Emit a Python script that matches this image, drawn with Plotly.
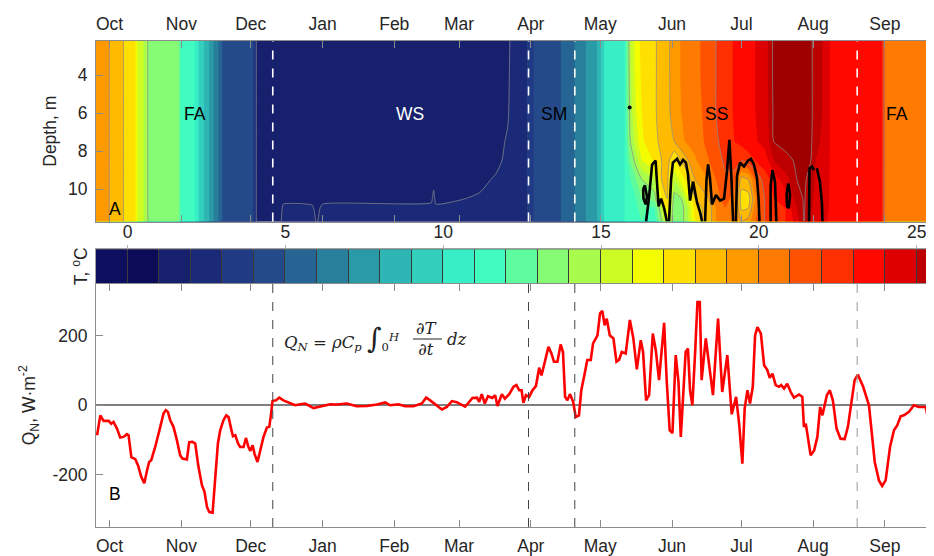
import numpy as np
import pandas as pd
import plotly.graph_objects as go

START = pd.Timestamp("2013-10-01")

# ---------------- Q_N series (days since 2013-10-01, W m-2) ----------------
qn_days = [-5.4, -4.0, -2.6, -0.4, 0.7, 1.7, 3.2, 4.6, 6.0, 7.5, 8.2, 9.4, 11.1, 12.3, 13.7, 15.0,
           16.2, 17.1, 18.0, 19.7, 21.9, 23.3, 24.3, 25.2, 26.2, 27.6, 29.1, 30.5, 31.5, 33.4, 34.4,
           35.8, 37.0, 38.4, 39.9, 41.0, 42.1, 43.1, 44.5, 45.7, 46.8, 47.8, 49.2, 50.4, 51.4, 52.6,
           53.3, 54.3, 55.5, 56.4, 57.9, 58.9, 60.0, 60.8, 61.8, 62.6, 63.9, 65.1, 66.5, 68.0, 69.0,
           69.7, 70.4, 71.9, 73.3, 75.1, 77.3, 80.2, 82.4, 84.5, 88.1, 91.0, 95.3, 98.2, 102.5, 106.8,
           111.2, 115.5, 119.1, 121.2, 124.8, 127.7, 131.3, 134.9, 136.8, 138.5, 140.7, 143.6, 145.7,
           147.9, 150.0, 152.2, 153.6, 154.8, 156.8, 158.7, 159.7, 160.8, 162.1, 163.5, 165.4, 166.6,
           167.6, 169.5, 170.8, 172.6, 174.5, 175.8, 177.0, 178.0, 178.8, 179.9, 181.3, 182.7, 184.2,
           185.6, 186.6, 187.7, 189.6, 190.9, 192.0, 193.5, 194.9, 195.9, 196.8, 197.8, 198.9, 200.3,
           201.4, 202.8, 203.8, 205.0, 206.4, 207.9, 208.9, 210.8, 211.9, 212.9, 213.9, 214.8, 216.1,
           217.7, 219.0, 220.1, 221.3, 223.0, 224.8, 226.3, 227.8, 229.5, 230.5, 231.8, 233.1, 234.7,
           236.0, 237.4, 239.6, 240.7, 242.0, 243.2, 244.6, 245.8, 246.8, 248.9, 249.9, 250.8, 251.8,
           253.0, 254.0, 255.0, 255.8, 257.6, 259.0, 260.7, 262.9, 264.7, 266.9, 268.8, 270.7, 272.0,
           273.4, 274.4, 275.6, 276.7, 277.9, 278.9, 279.9, 281.4, 282.8, 284.2, 285.2, 286.4, 287.8,
           289.2, 290.2, 291.4, 292.8, 294.3, 295.7, 297.9, 299.3, 300.0, 300.8, 302.9, 304.4, 305.8,
           307.0, 308.0, 309.9, 311.2, 312.5, 314.1, 315.8, 317.6, 319.0, 320.4, 321.9, 323.3, 325.6,
           328.1, 329.1, 330.6, 332.4, 333.8, 335.3, 337.2, 338.9, 340.3, 341.8, 343.2, 345.4, 347.5,
           349.7, 352.6, 354.4, 356.2]
qn_values = [-86, -29, -45, -45, -53, -48, -67, -93, -91, -83, -86, -149, -155, -173, -206, -224,
             -187, -163, -158, -120, -62, -24, -14, -19, -43, -62, -101, -144, -153, -156, -106,
             -105, -110, -177, -230, -249, -293, -307, -309, -206, -110, -72, -43, -29, -34, -70,
             -89, -86, -110, -120, -120, -94, -120, -131, -115, -139, -163, -130, -91, -64, -62,
             -29, 12, 14, 22, 14, 7, 0, 3, 5, -8, -3, 3, 2, 5, -3,
             -2, 2, 8, 0, 3, -3, -3, 5, 22, 14, 3, -12, -5,
             12, 9, 0, -4, 5, 21, 22, 10, 32, 5, 26, 21, 29,
             -2, 32, 19, 31, 53, 58, 43, 43, 7, 29, 24, 43, 55,
             108, 86, 115, 168, 149, 125, 125, 175, 153, 24, 14, 32, 10,
             -34, -29, 43, 82, 130, 130, 178, 201, 264, 271, 230, 249, 201,
             192, 125, 130, 153, 149, 245, 192, 103, 187, 153, 14, 29, 206,
             158, 72, 237, 72, -72, -80, 144, 67, -91, 153, 163, 43, 0,
             153, 297, 297, 72, 192, 120, 29, 249, 38, 144, -26, 24, -53,
             -168, -9, 43, 5, 53, 201, 225, 206, 115, 101, 79, 91, 58,
             53, 58, 48, 62, 38, 22, 31, 24, -62, -53, -144, -130, -91,
             -5, -29, 29, 43, 14, -67, -96, -97, -62, 5, 72, 88, 53,
             0, -67, -163, -216, -232, -216, -120, -72, -58, -32, -29, -19, 0,
             -5, -5, -62, -120]

# ---------------- temperature section (days since 2013-10-01, depth in m, degC) ----------------
depths = [2.2, 4.0, 6.0, 7.5, 8.5, 9.5, 10.5, 11.0, 11.7]
temp_days = [-6.0, -0.6, 0.6, 5.9, 6.2, 11.0, 12.0, 14.0, 15.5, 17.0, 29.8, 31.0, 36.5, 37.5, 39.5,
             42.0, 44.5, 47.0, 49.0, 61.5, 62.5, 63.5, 74.0, 75.0, 87.5, 89.5, 92.0, 139.0, 140.0,
             141.0, 160.0, 167.0, 172.0, 174.5, 180.0, 181.5, 184.0, 194.0, 196.0, 200.0, 203.0,
             208.0, 211.5, 212.5, 214.5, 222.5, 225.0, 227.5, 230.0, 233.0, 235.5, 238.5, 241.0,
             244.0, 247.0, 250.0, 253.0, 256.0, 259.0, 262.0, 266.0, 270.0, 273.0, 276.0, 279.0,
             283.0, 285.5, 287.0, 292.0, 297.0, 300.0, 303.0, 305.0, 310.0, 311.5, 321.0, 333.5,
             334.5, 335.2, 357.0]
temp_rows = [
    [19.6, 19.6, 19.6, 19.6, 19.6, 19.6, 19.6, 19.6, 19.6],
    [19.4, 19.4, 19.4, 19.4, 19.4, 19.4, 19.4, 19.4, 19.4],
    [18.4, 18.4, 18.4, 18.4, 18.4, 18.4, 18.4, 18.4, 18.4],
    [18.1, 18.1, 18.1, 18.1, 18.1, 18.1, 18.1, 18.1, 18.1],
    [17.8, 17.8, 17.8, 17.8, 17.8, 17.8, 17.8, 17.8, 17.8],
    [17.2, 17.2, 17.2, 17.2, 17.2, 17.2, 17.2, 17.2, 17.2],
    [16.0, 16.0, 16.0, 16.0, 16.0, 16.0, 16.0, 16.0, 16.0],
    [15.2, 15.2, 15.2, 15.2, 15.2, 15.2, 15.2, 15.2, 15.2],
    [14.8, 14.8, 14.8, 14.8, 14.8, 14.8, 14.8, 14.8, 14.8],
    [13.6, 13.6, 13.6, 13.6, 13.6, 13.6, 13.6, 13.6, 13.6],
    [13.2, 13.2, 13.2, 13.2, 13.2, 13.2, 13.2, 13.2, 13.2],
    [11.5, 11.5, 11.5, 11.5, 11.5, 11.5, 11.5, 11.5, 11.5],
    [11.2, 11.2, 11.2, 11.2, 11.2, 11.2, 11.2, 11.2, 11.2],
    [10.5, 10.5, 10.5, 10.5, 10.5, 10.5, 10.5, 10.5, 10.5],
    [9.5, 9.5, 9.5, 9.5, 9.5, 9.5, 9.5, 9.5, 9.5],
    [8.5, 8.5, 8.5, 8.5, 8.5, 8.5, 8.5, 8.5, 8.5],
    [7.2, 7.2, 7.2, 7.2, 7.2, 7.2, 7.2, 7.2, 7.2],
    [6.0, 6.0, 6.0, 6.0, 6.0, 6.0, 6.0, 6.0, 6.0],
    [4.8, 4.8, 4.8, 4.8, 4.8, 4.8, 4.8, 4.8, 4.8],
    [4.4, 4.4, 4.4, 4.4, 4.4, 4.4, 4.4, 4.4, 4.4],
    [3.5, 3.5, 3.5, 3.5, 3.5, 3.5, 3.5, 3.5, 3.5],
    [1.8, 1.8, 1.8, 1.8, 1.8, 1.8, 1.8, 1.8, 1.8],
    [1.6, 1.6, 1.6, 1.6, 1.6, 1.6, 1.7, 1.8, 1.9],
    [1.6, 1.6, 1.6, 1.6, 1.6, 1.6, 1.8, 2.15, 2.4],
    [1.6, 1.6, 1.6, 1.6, 1.6, 1.6, 1.8, 2.1, 2.4],
    [1.6, 1.6, 1.6, 1.6, 1.6, 1.6, 1.7, 1.8, 1.9],
    [1.6, 1.6, 1.6, 1.6, 1.6, 1.6, 1.8, 2.15, 2.4],
    [1.6, 1.6, 1.6, 1.6, 1.6, 1.6, 1.85, 2.2, 2.4],
    [1.6, 1.6, 1.6, 1.6, 1.6, 1.75, 2.2, 2.3, 2.5],
    [1.6, 1.6, 1.6, 1.6, 1.6, 1.6, 1.8, 2.15, 2.4],
    [1.6, 1.6, 1.6, 1.6, 1.7, 1.8, 2.1, 2.3, 2.5],
    [1.6, 1.6, 1.6, 1.7, 1.8, 2.1, 2.3, 2.4, 2.6],
    [1.7, 1.8, 1.9, 2.1, 2.2, 2.4, 2.5, 2.6, 2.7],
    [2.5, 2.5, 2.5, 2.5, 2.5, 2.5, 2.5, 2.5, 2.5],
    [2.9, 2.9, 2.9, 2.9, 2.9, 2.9, 2.9, 2.9, 2.9],
    [3.5, 3.5, 3.5, 3.5, 3.5, 3.5, 3.5, 3.5, 3.5],
    [4.2, 4.2, 4.2, 4.2, 4.2, 4.2, 4.2, 4.2, 4.2],
    [4.8, 4.8, 4.8, 4.8, 4.8, 4.8, 4.8, 4.8, 4.8],
    [5.2, 5.2, 5.2, 5.2, 5.2, 5.2, 5.2, 5.2, 5.2],
    [5.8, 5.8, 5.8, 5.8, 5.8, 5.8, 5.8, 5.8, 5.8],
    [6.5, 6.5, 6.5, 6.5, 6.5, 6.5, 6.5, 6.5, 6.5],
    [7.4, 7.4, 7.4, 7.4, 7.4, 7.4, 7.4, 7.4, 7.4],
    [8.2, 8.2, 8.2, 8.2, 8.2, 8.2, 8.2, 8.2, 8.2],
    [9.2, 9.2, 9.2, 9.2, 9.2, 9.2, 9.2, 9.2, 9.2],
    [10.6, 10.6, 10.6, 10.6, 10.6, 10.6, 10.6, 10.6, 10.6],
    [11.0, 11.0, 11.0, 11.0, 11.0, 11.0, 11.0, 11.0, 11.0],
    [15.0, 14.8, 14.5, 14.0, 13.0, 12.0, 11.5, 11.3, 11.2],
    [16.5, 16.3, 16.0, 15.5, 14.5, 13.0, 12.0, 11.8, 11.6],
    [17.3, 17.2, 17.0, 16.8, 16.0, 14.0, 13.0, 12.5, 12.0],
    [17.6, 17.6, 17.6, 17.5, 16.5, 14.5, 13.0, 11.8, 11.5],
    [17.9, 17.9, 17.9, 17.8, 17.2, 15.0, 13.5, 12.0, 11.5],
    [18.3, 18.3, 18.3, 18.2, 18.0, 18.0, 17.0, 15.0, 14.0],
    [18.8, 18.8, 18.8, 18.7, 18.4, 18.2, 18.0, 17.0, 16.0],
    [19.4, 19.4, 19.3, 19.0, 17.0, 15.0, 13.5, 13.0, 13.0],
    [20.1, 20.1, 20.0, 19.8, 18.0, 16.5, 14.0, 13.5, 13.5],
    [20.4, 20.4, 20.4, 20.2, 19.0, 17.5, 16.0, 15.0, 15.0],
    [20.7, 20.7, 20.6, 20.5, 19.8, 19.0, 18.0, 17.5, 17.0],
    [21.1, 21.1, 21.0, 20.9, 20.5, 19.5, 18.5, 18.0, 18.0],
    [21.5, 21.5, 21.5, 21.3, 21.0, 20.0, 19.0, 18.5, 18.5],
    [22.0, 22.0, 22.0, 21.8, 21.5, 21.0, 20.5, 20.0, 20.0],
    [22.6, 22.6, 22.6, 22.5, 22.2, 21.8, 21.5, 21.0, 21.0],
    [23.1, 23.1, 23.1, 23.0, 22.5, 21.5, 20.5, 20.5, 21.0],
    [23.4, 23.4, 23.4, 23.3, 22.0, 18.5, 17.5, 17.8, 19.0],
    [23.7, 23.7, 23.7, 23.6, 22.5, 19.0, 17.5, 18.0, 19.5],
    [24.0, 24.0, 24.0, 23.9, 23.0, 21.0, 20.0, 20.5, 21.0],
    [24.4, 24.4, 24.4, 24.3, 23.5, 22.5, 22.0, 22.0, 22.0],
    [25.5, 25.5, 25.4, 25.2, 24.3, 23.0, 22.5, 22.5, 22.5],
    [26.3, 26.3, 26.2, 26.0, 25.0, 23.5, 23.0, 23.0, 23.0],
    [26.4, 26.4, 26.3, 26.2, 25.8, 24.5, 23.5, 23.0, 23.0],
    [26.4, 26.4, 26.4, 26.3, 26.1, 26.0, 25.5, 25.0, 24.5],
    [26.4, 26.4, 26.4, 26.3, 26.2, 26.1, 26.1, 26.1, 26.1],
    [26.3, 26.3, 26.3, 26.2, 26.0, 25.8, 25.5, 25.3, 25.0],
    [25.3, 25.3, 25.3, 25.2, 25.0, 24.8, 24.5, 24.3, 24.2],
    [24.8, 24.8, 24.8, 24.7, 24.6, 24.5, 24.3, 24.2, 24.0],
    [23.8, 23.8, 23.8, 23.8, 23.8, 23.8, 23.8, 23.8, 23.8],
    [23.6, 23.6, 23.6, 23.6, 23.6, 23.6, 23.6, 23.6, 23.6],
    [23.2, 23.2, 23.2, 23.2, 23.2, 23.2, 23.2, 23.2, 23.2],
    [22.2, 22.2, 22.2, 22.2, 22.2, 22.2, 22.2, 22.2, 22.2],
    [20.8, 20.8, 20.8, 20.8, 20.8, 20.8, 20.8, 20.8, 20.8],
    [20.8, 20.8, 20.8, 20.8, 20.8, 20.8, 20.8, 20.8, 20.8],
]

# bold black contour (outlined bottom patches), days / depth, None separates pieces
bold_days = [231.8, 233.1, 234.4, 235.9, 236.5, 237.2, 238.3, 239.6, 240.8, None,
             241.7, 242.6, 243.4, 245.2, 246.5, 247.8, 249.0, 249.9, 250.8, 252.1, 253.8, 255.1, 256.0, None,
             257.3, 257.9, 258.6, 259.4, 260.3, 262.0, 263.8, 265.5, 266.8, 267.8, 268.7, 269.4, None,
             270.6, 271.1, 272.4, 274.1, 275.8, 277.1, 278.4, 279.7, 280.4, 280.8, None,
             285.6, 285.6, 286.4, 287.5, 287.9, 288.1, None,
             292.5, 293.3, 294.0, 293.5, 292.7, 292.5, None,
             302.2, 302.4, 303.5, 304.3, None,
             305.6, 306.9, 307.8, 308.0, None,
             230.5, 231.3, 232.2, 231.6, 230.7, 230.5]
bold_depths = [11.7, 10.4, 8.7, 8.5, 9.6, 10.9, 10.5, 11.0, 11.7, None,
               11.7, 9.5, 8.6, 8.4, 8.7, 8.45, 8.6, 9.2, 10.6, 9.6, 10.7, 11.2, 11.7, None,
               11.7, 9.5, 8.7, 9.4, 10.8, 10.3, 10.6, 10.5, 9.0, 7.4, 9.5, 11.7, None,
               11.7, 9.3, 8.6, 8.8, 8.5, 8.4, 8.7, 9.4, 10.5, 11.7, None,
               11.7, 9.8, 9.0, 9.6, 11.0, 11.7, None,
               10.2, 9.7, 10.3, 11.0, 10.9, 10.2, None,
               11.7, 8.9, 8.8, 9.0, None,
               8.9, 9.6, 10.8, 11.7, None,
               10.0, 9.8, 10.4, 10.8, 10.5, 10.0]
bold_dot_days = [224.7]
bold_dot_depths = [5.7]

# gray isotherms
gray_levels = [2, 14, 18, 19, 22, 26]

# colour steps of the colour bar (1 degC each, from -1 to 27)
band_colors = ["#0e0e5e", "#0b0b58", "#16206c", "#1a2a78", "#203a84", "#244a8a", "#266494",
               "#287f9c", "#2a9ba6", "#2db6b4", "#32d0bc", "#38eec6", "#40fcbf", "#5efc9e",
               "#86fc74", "#aafc4c", "#ccfc24", "#f4fc00", "#ffe000", "#ffbb00", "#ff9900",
               "#ff7a00", "#ff5200", "#ff2f00", "#ff0800", "#de0000", "#bc0000", "#9e0000"]
band_lower = list(range(-1, 27))

# season boundaries and labels
phase_days = [70.5, 181.0, 201.0, 323.0]
season_labels = ["FA", "WS", "SM", "SS", "FA"]
season_days = [36.7, 130.0, 192.0, 262.4, 340.2]
season_colors = ["black", "white", "black", "black", "black"]


def to_date(d):
    return (START + pd.Timedelta(days=d)).strftime("%Y-%m-%d %H:%M:%S")


t_dates = [to_date(d) for d in temp_days]
Z = np.array(temp_rows).T.tolist()
nb = len(band_colors)
cscale = [[k / (nb - 1), c] for k, c in enumerate(band_colors)]

FONT = "Liberation Sans, Arial, sans-serif"
TXT = "#262626"
AXC = "#8c8c8c"
FS = 17.5

# the page adds an 8 px body margin; the figure is sized so that it fills the window
W, H = 926, 548
ML, MT, MB = 88, 33, 29
OFF = 8

fig = go.Figure()

# top: filled temperature section
fig.add_trace(go.Contour(
    x=t_dates, y=depths, z=Z, xaxis="x", yaxis="y",
    colorscale=cscale, autocontour=False,
    contours=dict(start=0, end=26, size=1, coloring="fill", showlines=False),
    line=dict(width=0, smoothing=0), showscale=False, hoverinfo="skip"))
for lev in gray_levels:
    fig.add_trace(go.Contour(
        x=t_dates, y=depths, z=Z, xaxis="x", yaxis="y", autocontour=False,
        contours=dict(start=lev, end=lev, size=1, coloring="none"),
        line=dict(color="rgba(140,140,140,0.9)", width=0.8, smoothing=0.6),
        showscale=False, hoverinfo="skip"))
fig.add_trace(go.Scatter(
    x=[to_date(d) if d is not None else None for d in bold_days], y=bold_depths,
    mode="lines", line=dict(color="black", width=2.6), xaxis="x", yaxis="y",
    hoverinfo="skip", connectgaps=False))
fig.add_trace(go.Scatter(
    x=[to_date(d) for d in bold_dot_days], y=bold_dot_depths, mode="markers",
    marker=dict(color="black", size=4), xaxis="x", yaxis="y", hoverinfo="skip"))

# colour bar strip
fig.add_trace(go.Heatmap(
    x=[b + 0.5 for b in band_lower], y=[0], z=[[b + 0.5 for b in band_lower]],
    zmin=band_lower[0] + 0.5, zmax=band_lower[-1] + 0.5, colorscale=cscale,
    showscale=False, xgap=1, xaxis="x2", yaxis="y2", hoverinfo="skip"))

# bottom: Q_N
fig.add_trace(go.Scatter(
    x=[to_date(d) for d in qn_days], y=qn_values, mode="lines",
    line=dict(color="#ff0000", width=2.6), xaxis="x3", yaxis="y3", hoverinfo="skip"))

xr = [to_date(-5.87), to_date(356.2)]
common_x = dict(type="date", range=xr, tick0="2013-10-01", dtick="M1", tickformat="%b",
                ticks="inside", ticklen=7, tickcolor=AXC, showline=True, linecolor=AXC,
                linewidth=1, mirror="ticks", showgrid=False, zeroline=False, automargin=False,
                ticklabelstandoff=3, tickfont=dict(family=FONT, size=FS, color=TXT))

shapes = []
for i, d in enumerate(phase_days):
    shapes.append(dict(type="line", xref="x", yref="y domain", x0=to_date(d), x1=to_date(d),
                       y0=0, y1=1, line=dict(color="white", width=1.6, dash="dash")))
    shapes.append(dict(type="line", xref="x3", yref="y3 domain", x0=to_date(d), x1=to_date(d),
                       y0=0, y1=1,
                       line=dict(color="#9a9a9a" if i == len(phase_days) - 1 else "#444444",
                                 width=1, dash="dash")))
# dark backing for colour-bar separators
shapes.append(dict(type="rect", xref="x2", yref="y2 domain", x0=-1, x1=27, y0=0, y1=1,
                   fillcolor="#3a3a3a", line=dict(width=0), layer="below"))


def px(xp):
    # window pixel -> paper fraction
    return (xp - OFF - ML) / (W - ML)


def py(yp):
    return (H - MB - (yp - OFF)) / (H - MT - MB)


annotations = []
for lab, d, c in zip(season_labels, season_days, season_colors):
    annotations.append(dict(x=to_date(d), y=6.05, xref="x", yref="y", text=lab, showarrow=False,
                            font=dict(family=FONT, size=FS, color=c)))
annotations.append(dict(x=to_date(2.5), y=11.05, xref="x", yref="y", text="A", showarrow=False,
                        font=dict(family=FONT, size=FS, color="black")))
annotations.append(dict(x=to_date(2.5), y=-256, xref="x3", yref="y3", text="B", showarrow=False,
                        font=dict(family=FONT, size=FS, color="black")))
SERIF = "DejaVu Serif, Liberation Serif, serif"
annotations.append(dict(
    x=px(282), y=py(338), xref="paper", yref="paper", xanchor="left", yanchor="middle",
    text="<i>Q</i><sub><i>N</i></sub> = <i>ρC</i><sub><i>p</i></sub> "
         "<span style='font-size:28px'>∫</span><sub>0</sub><sup><i>H</i></sup>",
    showarrow=False, font=dict(family=SERIF, size=16.5, color="#222222")))
annotations.append(dict(
    x=px(427), y=py(339), xref="paper", yref="paper", xanchor="center", yanchor="middle",
    text="∂<i>T</i><br>∂<i>t</i>", showarrow=False,
    font=dict(family=SERIF, size=16.5, color="#222222")))
annotations.append(dict(
    x=px(445), y=py(340), xref="paper", yref="paper", xanchor="left", yanchor="middle",
    text="<i>dz</i>", showarrow=False, font=dict(family=SERIF, size=16.5, color="#222222")))
shapes.append(dict(type="line", xref="paper", yref="paper", x0=px(413), x1=px(442),
                   y0=py(339), y1=py(339), line=dict(color="#222222", width=1)))

fig.update_layout(
    width=W, height=H,
    margin=dict(l=ML, r=0, t=MT, b=MB, autoexpand=False),
    paper_bgcolor="white", plot_bgcolor="white",
    showlegend=False,
    font=dict(family=FONT, size=FS, color=TXT),
    xaxis=dict(common_x, domain=[0, 1], anchor="y", side="top"),
    yaxis=dict(domain=[0.6286, 1], anchor="x", range=[11.7, 2.2], tickvals=[4, 6, 8, 10],
               ticks="inside", ticklen=7, tickcolor=AXC, showline=True, linecolor=AXC,
               mirror="ticks", showgrid=False, zeroline=False, automargin=False,
               ticklabelstandoff=4, tickfont=dict(family=FONT, size=FS, color=TXT),
               title=dict(text="Depth, m", standoff=6, font=dict(family=FONT, size=FS, color=TXT))),
    xaxis2=dict(domain=[0, 1], anchor="y2", range=[-1, 25.55], side="top",
                tickvals=[0, 5, 10, 15, 20, 25], ticks="outside", ticklen=3, tickcolor="#b0b0b0",
                showline=True, linecolor="#a0a0a0", mirror=True, showgrid=False, zeroline=False,
                automargin=False, tickfont=dict(family=FONT, size=FS, color=TXT)),
    yaxis2=dict(domain=[0.5014, 0.5714], anchor="x2", range=[-0.5, 0.5], showticklabels=False,
                ticks="", showline=True, linecolor="#a0a0a0", mirror=True, showgrid=False,
                zeroline=False, automargin=False,
                title=dict(text="T, <sup>o</sup>C", standoff=2,
                           font=dict(family=FONT, size=FS, color=TXT))),
    xaxis3=dict(common_x, domain=[0, 1], anchor="y3", side="bottom"),
    yaxis3=dict(domain=[0, 0.501], anchor="x3", range=[-350, 350], tickvals=[-200, 0, 200],
                ticktext=["-200", "0", "200"],
                ticks="inside", ticklen=7, tickcolor=AXC, showline=True, linecolor=AXC,
                mirror="ticks", showgrid=False, zeroline=True, zerolinecolor="#7f7f7f",
                zerolinewidth=1.5, automargin=False, ticklabelstandoff=4,
                tickfont=dict(family=FONT, size=FS, color=TXT),
                title=dict(text="Q<sub>N</sub>, W·m<sup>-2</sup>", standoff=12,
                           font=dict(family=FONT, size=FS, color=TXT))),
    shapes=shapes, annotations=annotations,
)

fig.write_html("out.html")
